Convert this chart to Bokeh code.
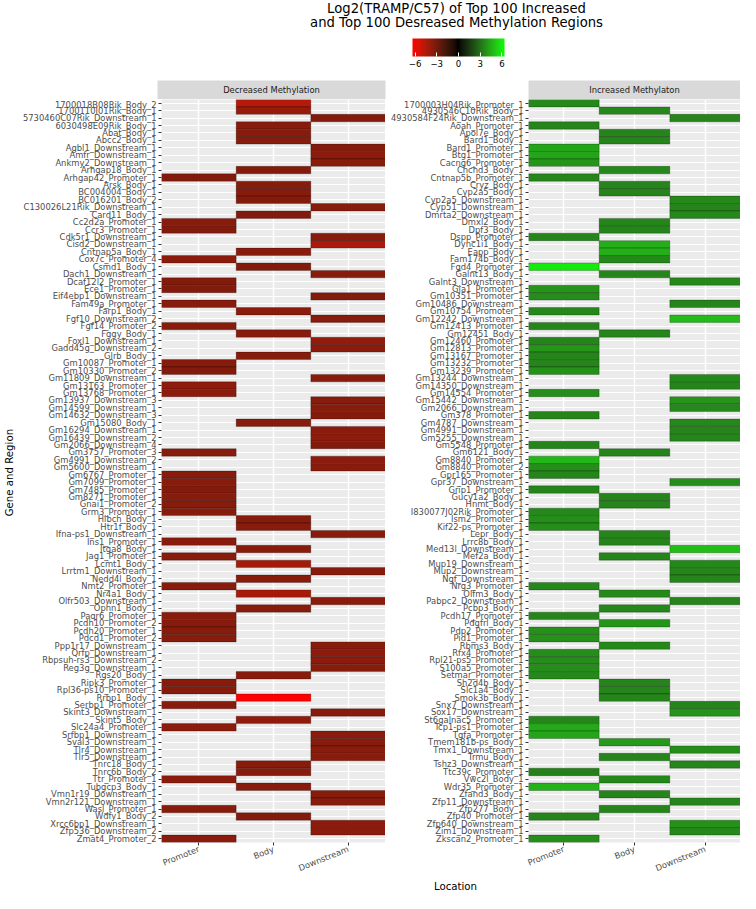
from math import pi
from bokeh.plotting import figure
from bokeh.models import (FactorRange, Range1d, LinearColorMapper, ColorBar,
                          FixedTicker, ColumnDataSource)
from bokeh.layouts import column, row
from bokeh.embed import file_html
from bokeh.resources import INLINE
from bokeh.core.properties import value

# ---------------- data ----------------
dec_labels = [
    "1700018B08Rik_Body_2", "1700110I01Rik_Body_1", "5730460C07Rik_Downstream_1",
    "6030498E09Rik_Body_1", "Abat_Body_1", "Abcc2_Body_1", "Agbl1_Downstream_1",
    "Amfr_Downstream_1", "Ankmy2_Downstream_1", "Arhgap18_Body_1", "Arhgap42_Promoter_1",
    "Arsk_Body_1", "BC004004_Body_1", "BC016201_Body_2", "C130026L21Rik_Downstream_1",
    "Card11_Body_1", "Cc2d2a_Promoter_1", "Ccr3_Promoter_1", "Cdk5r1_Downstream_1",
    "Cisd2_Downstream_1", "Cntnap5a_Body_1", "Cox7c_Promoter_4", "Csmd1_Body_1",
    "Dach1_Downstream_1", "Dcaf12l2_Promoter_1", "Ece1_Promoter_1", "Eif4ebp1_Downstream_1",
    "Fam49a_Promoter_1", "Farp1_Body_1", "Fgf10_Downstream_2", "Fgf14_Promoter_2",
    "Fggy_Body_1", "Foxl1_Downstream_1", "Gadd45g_Downstream_2", "Glrb_Body_1",
    "Gm10087_Promoter_1", "Gm10330_Promoter_2", "Gm11809_Downstream_1", "Gm13163_Promoter_1",
    "Gm13768_Promoter_1", "Gm13937_Downstream_3", "Gm14599_Downstream_1", "Gm14632_Downstream_3",
    "Gm15080_Body_1", "Gm16294_Downstream_1", "Gm16439_Downstream_2", "Gm2066_Downstream_4",
    "Gm3757_Promoter_3", "Gm4991_Downstream_2", "Gm5600_Downstream_1", "Gm6767_Promoter_1",
    "Gm7099_Promoter_1", "Gm7485_Promoter_1", "Gm8271_Promoter_1", "Gnai1_Promoter_2",
    "Grm3_Promoter_1", "Hibch_Body_1", "Htr1f_Body_1", "Ifna-ps1_Downstream_1",
    "Ins1_Promoter_1", "Itga8_Body_1", "Jag1_Promoter_1", "Lcmt1_Body_1",
    "Lrrtm1_Downstream_1", "Nedd4l_Body_1", "Nmt2_Promoter_1", "Nr4a1_Body_1",
    "Olfr503_Downstream_1", "Ophn1_Body_1", "Paqr6_Promoter_1", "Pcdh10_Promoter_2",
    "Pcdh20_Promoter_1", "Pdcd1_Promoter_2", "Ppp1r17_Downstream_1", "Qrfp_Downstream_1",
    "Rbpsuh-rs3_Downstream_2", "Reg3g_Downstream_1", "Rgs20_Body_1", "Ripk3_Promoter_1",
    "Rpl36-ps10_Promoter_1", "Rrbp1_Body_1", "Serbp1_Promoter_1", "Skint3_Downstream_1",
    "Skint5_Body_1", "Slc24a4_Promoter_1", "Srfbp1_Downstream_1", "Sval3_Downstream_1",
    "Tlr4_Downstream_1", "Tlr5_Downstream_1", "Tnrc18_Body_1", "Tnrc6b_Body_2",
    "Ttr_Promoter_1", "Tubgcp3_Body_1", "Vmn1r19_Downstream_1", "Vmn2r121_Downstream_1",
    "Wasl_Promoter_1", "Wdfy1_Body_2", "Xrcc6bp1_Downstream_1", "Zfp536_Downstream_2",
    "Zmat4_Promoter_2",
]
dec_values = [
    -4.6, -3.9, -3.4, -3.5, -3.5, -3.5, -3.4, -3.6, -3.5, -3.4,
    -3.4, -3.5, -3.5, -3.4, -3.5, -3.4, -3.5, -3.4, -3.5, -4.4,
    -3.5, -3.6, -3.4, -3.5, -3.4, -3.4, -3.4, -3.5, -3.6, -3.5,
    -3.5, -3.5, -3.8, -3.6, -3.5, -3.5, -3.4, -3.5, -3.7, -3.6,
    -3.5, -3.5, -3.4, -3.5, -3.6, -3.7, -3.4, -3.5, -3.6, -3.5,
    -3.5, -3.5, -3.4, -3.5, -3.5, -3.5, -3.5, -3.5, -3.5, -3.6,
    -3.5, -3.5, -4.2, -3.5, -3.5, -3.5, -4.3, -3.6, -3.5, -3.5,
    -3.5, -3.5, -3.5, -3.5, -3.6, -3.7, -3.5, -3.5, -3.5, -3.5,
    -6.35, -3.5, -3.5, -3.7, -3.6, -3.6, -3.5, -3.5, -3.5, -3.5,
    -3.5, -3.6, -3.5, -3.5, -3.5, -3.5, -3.4, -3.6, -3.6, -3.6,
]

inc_labels = [
    "1700003H04Rik_Promoter_1", "4930546C10Rik_Body_1", "4930584F24Rik_Downstream_1",
    "Aoah_Promoter_1", "Apol7e_Body_1", "Bard1_Body_1", "Bard1_Promoter_1", "Btg1_Promoter_1",
    "Cacng6_Promoter_1", "Chchd3_Body_1", "Cntnap5b_Promoter_1", "Cryz_Body_1",
    "Cyp2a5_Body_1", "Cyp2a5_Downstream_1", "Cyp51_Downstream_1", "Dmrta2_Downstream_1",
    "Dmxl2_Body_1", "Dpf3_Body_1", "Dspp_Promoter_1", "Dync1i1_Body_1", "Eapp_Body_1",
    "Fam174b_Body_1", "Fgd4_Promoter_1", "Galnt13_Body_1", "Galnt3_Downstream_1",
    "Gja1_Promoter_1", "Gm10351_Promoter_1", "Gm10486_Downstream_1", "Gm10754_Promoter_1",
    "Gm12242_Downstream_1", "Gm12413_Promoter_1", "Gm12451_Body_1", "Gm12460_Promoter_1",
    "Gm12813_Promoter_1", "Gm13167_Promoter_1", "Gm13232_Promoter_1", "Gm13239_Promoter_1",
    "Gm13244_Downstream_1", "Gm14350_Downstream_1", "Gm14554_Promoter_1", "Gm15442_Downstream_1",
    "Gm2066_Downstream_1", "Gm378_Promoter_1", "Gm4787_Downstream_1", "Gm4991_Downstream_1",
    "Gm5255_Downstream_1", "Gm5548_Promoter_1", "Gm6121_Body_1", "Gm8840_Promoter_1",
    "Gm8840_Promoter_2", "Gpr165_Promoter_1", "Gpr37_Downstream_1", "Grip1_Promoter_1",
    "Gucy1a2_Body_1", "Hnmt_Body_1", "I830077J02Rik_Promoter_1", "Ism2_Promoter_1",
    "Kif22-ps_Promoter_1", "Lepr_Body_1", "Lrrc8b_Body_1", "Med13l_Downstream_1",
    "Mef2a_Body_1", "Mup19_Downstream_1", "Mup2_Downstream_1", "Ngf_Downstream_1",
    "Nrg3_Promoter_1", "Olfm3_Body_1", "Pabpc2_Downstream_1", "Pcbp3_Body_1",
    "Pcdh17_Promoter_1", "Pdgfrl_Body_1", "Pdp2_Promoter_1", "Pid1_Promoter_1",
    "Rbms3_Body_1", "Rfx4_Promoter_1", "Rpl21-ps5_Promoter_1", "S100a5_Promoter_1",
    "Setmar_Promoter_1", "Sh2d4b_Body_1", "Slc1a4_Body_1", "Smok3b_Body_1",
    "Snx7_Downstream_1", "Sox17_Downstream_1", "St6galnac5_Promoter_1", "Tcp1-ps1_Promoter_1",
    "Tgfa_Promoter_1", "Tmem181b-ps_Body_1", "Tmx1_Downstream_1", "Trmu_Body_1",
    "Tshz3_Downstream_1", "Ttc39c_Promoter_1", "Vwc2l_Body_1", "Wdr35_Promoter_1",
    "Zfand3_Body_1", "Zfp11_Downstream_1", "Zfp277_Body_1", "Zfp40_Promoter_1",
    "Zfp640_Downstream_1", "Zim1_Downstream_1", "Zkscan2_Promoter_1",
]
inc_values = [
    3.6, 3.6, 3.5, 3.5, 3.5, 3.5, 4.3, 4.3, 3.9, 3.6,
    3.5, 3.5, 3.5, 3.6, 3.5, 3.6, 3.5, 3.5, 3.5, 4.5,
    4.5, 3.6, 5.9, 3.5, 3.6, 3.9, 3.7, 3.5, 3.6, 4.8,
    3.5, 3.5, 3.5, 3.9, 3.5, 3.5, 3.8, 3.6, 3.5, 3.7,
    3.9, 3.6, 3.5, 3.6, 3.5, 3.5, 3.5, 3.5, 4.7, 3.7,
    3.5, 3.7, 3.5, 3.5, 3.5, 3.6, 3.7, 3.7, 3.5, 3.5,
    4.9, 3.5, 3.6, 3.5, 3.5, 3.6, 3.6, 3.5, 3.6, 3.5,
    3.9, 3.8, 3.8, 3.6, 3.7, 3.7, 3.7, 3.6, 3.5, 3.5,
    3.5, 3.5, 3.9, 3.5, 4.4, 4.3, 4.0, 3.7, 3.5, 3.5,
    3.4, 3.6, 4.6, 3.5, 3.5, 3.5, 3.5, 3.8, 3.6, 3.7,
]

locations = ["Promoter", "Body", "Downstream"]
legend_ticks = [-6, -3, 0, 3, 6]
scale_low, scale_high = -6.35, 6.35

title_lines = ["Log2(TRAMP/C57) of Top 100 Increased",
               "and Top 100 Desreased Methylation Regions"]
panel_titles = ["Decreased Methylation", "Increased Methylaton"]
x_title = "Location"
y_title = "Gene  and Region"

# ---------------- colour ramp (CIELAB, red - black - green) ----------------
Xn, Yn, Zn = 0.95047, 1.0, 1.08883


def _to_lin(c):
    c = c / 255.0
    return c / 12.92 if c <= 0.04045 else ((c + 0.055) / 1.055) ** 2.4


def _to_srgb(c):
    c = max(0.0, min(1.0, c))
    v = 12.92 * c if c <= 0.0031308 else 1.055 * c ** (1 / 2.4) - 0.055
    return int(round(max(0.0, min(1.0, v)) * 255))


def _f(t):
    return t ** (1 / 3) if t > (6 / 29) ** 3 else t / (3 * (6 / 29) ** 2) + 4 / 29


def _finv(t):
    return t ** 3 if t > 6 / 29 else 3 * (6 / 29) ** 2 * (t - 4 / 29)


def rgb_to_lab(rgb):
    r, g, b = [_to_lin(c) for c in rgb]
    X = 0.4124 * r + 0.3576 * g + 0.1805 * b
    Y = 0.2126 * r + 0.7152 * g + 0.0722 * b
    Z = 0.0193 * r + 0.1192 * g + 0.9505 * b
    fx, fy, fz = _f(X / Xn), _f(Y / Yn), _f(Z / Zn)
    return (116 * fy - 16, 500 * (fx - fy), 200 * (fy - fz))


def lab_to_hex(L, a, b):
    fy = (L + 16) / 116
    fx = fy + a / 500
    fz = fy - b / 200
    X, Y, Z = Xn * _finv(fx), Yn * _finv(fy), Zn * _finv(fz)
    r = 3.2406 * X - 1.5372 * Y - 0.4986 * Z
    g = -0.9689 * X + 1.8758 * Y + 0.0415 * Z
    bl = 0.0557 * X - 0.2040 * Y + 1.0570 * Z
    return "#%02x%02x%02x" % (_to_srgb(r), _to_srgb(g), _to_srgb(bl))


lab_red, lab_black, lab_green = rgb_to_lab((255, 0, 0)), (0.0, 0.0, 0.0), rgb_to_lab((0, 255, 0))
palette = []
N = 255
for i in range(N):
    t = i / (N - 1)
    if t < 0.5:
        u, c0, c1 = t / 0.5, lab_red, lab_black
    else:
        u, c0, c1 = (t - 0.5) / 0.5, lab_black, lab_green
    palette.append(lab_to_hex(*[c0[k] + (c1[k] - c0[k]) * u for k in range(3)]))

mapper = LinearColorMapper(palette=palette, low=scale_low, high=scale_high)

# ---------------- layout constants ----------------
FONT = "DejaVu Sans"
W = 740
HEADER_H = 99
FOOT_H = 13
PANEL_H = 893 - HEADER_H - FOOT_H
BOTTOM_B = 36
LEFT_W, LEFT_B = 385, 157
RIGHT_W, RIGHT_B = 355, 143


def blank(width, height):
    f = figure(width=width, height=height, x_range=Range1d(0, width), y_range=Range1d(height, 0),
               x_axis_type=None, y_axis_type=None, toolbar_location=None,
               output_backend="svg", min_border=0, outline_line_color=None)
    f.grid.visible = False
    return f


# ---------------- header (title, colour bar, strips) ----------------
header = blank(W, HEADER_H)
header.text(x=[456, 456], y=[7.5, 22], text=title_lines, text_align="center",
            text_baseline="middle", text_font=value(FONT), text_font_size="13.2px",
            text_color="black")

strip_left = [LEFT_B, LEFT_W + RIGHT_B]
strip_right = [LEFT_W, W]
header.quad(left=strip_left, right=strip_right, top=[80, 80], bottom=[HEADER_H, HEADER_H],
            fill_color="#D9D9D9", line_color=None)
header.text(x=[271, 634], y=[89.5, 89.5],
            text=panel_titles, text_align="center", text_baseline="middle",
            text_font=value(FONT), text_font_size="8.4px", text_color="#1A1A1A")

cbar = ColorBar(color_mapper=mapper, orientation="horizontal", width=92, height=18,
                location=(412, 30), padding=0, margin=0,
                ticker=FixedTicker(ticks=legend_ticks), label_standoff=3,
                major_label_text_font=FONT, major_label_text_font_size="8.6px",
                major_label_text_color="black", major_tick_line_color="white",
                major_tick_in=4, major_tick_out=0, bar_line_color=None,
                background_fill_alpha=0, border_line_color=None)
header.add_layout(cbar, "center")


# ---------------- panels ----------------
def make_panel(labels, values, width, border_left):
    locs = [lab.split("_")[-2] for lab in labels]
    src = ColumnDataSource(dict(label=labels, loc=locs, value=values))
    p = figure(width=width, height=PANEL_H,
               x_range=FactorRange(factors=locations),
               y_range=FactorRange(factors=list(reversed(labels))),
               toolbar_location=None, output_backend="svg",
               min_border_left=border_left, min_border_right=0,
               min_border_top=0, min_border_bottom=BOTTOM_B,
               background_fill_color="#EBEBEB", border_fill_color="white",
               outline_line_color=None)
    p.rect(x="loc", y="label", width=1, height=1, source=src,
           fill_color={"field": "value", "transform": mapper},
           line_color="black", line_alpha=0.35, line_width=0.7)
    p.xgrid.grid_line_color = "white"
    p.xgrid.grid_line_width = 1.4
    p.ygrid.grid_line_color = "white"
    p.ygrid.grid_line_width = 1.0
    for ax in (p.xaxis[0], p.yaxis[0]):
        ax.axis_line_color = None
        ax.major_tick_line_color = "#333333"
        ax.major_tick_out = 3
        ax.major_tick_in = 0
        ax.minor_tick_line_color = None
        ax.major_label_text_font = FONT
        ax.major_label_text_font_size = "8.4px"
        ax.major_label_text_color = "#4D4D4D"
    p.yaxis.major_label_standoff = 2
    p.xaxis.major_label_standoff = 3
    p.xaxis.major_label_orientation = 22 * pi / 180
    return p


left = make_panel(dec_labels, dec_values, LEFT_W, LEFT_B)
right = make_panel(inc_labels, inc_values, RIGHT_W, RIGHT_B)

left.yaxis.axis_label = y_title
left.yaxis.axis_label_text_font = FONT
left.yaxis.axis_label_text_font_size = "10.2px"
left.yaxis.axis_label_text_font_style = "normal"
left.yaxis.axis_label_text_color = "black"
left.yaxis.axis_label_standoff = 5

# ---------------- footer (x axis title) ----------------
footer = blank(W, FOOT_H)
footer.text(x=[455], y=[6], text=[x_title], text_align="center",
            text_baseline="middle", text_font=value(FONT), text_font_size="10.2px",
            text_color="black")

layout = column(header, row(left, right), footer)
open("out.html", "w").write(file_html(layout, INLINE))
